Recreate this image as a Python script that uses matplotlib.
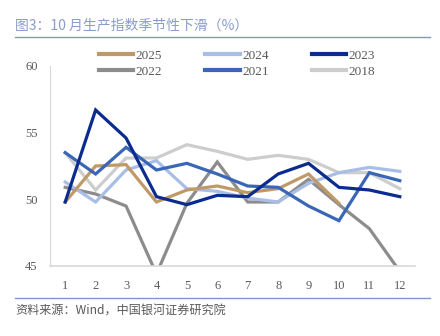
import matplotlib
matplotlib.use("Agg")
import matplotlib.pyplot as plt
from matplotlib.lines import Line2D

plt.rcParams['font.family'] = ['Liberation Serif', 'Noto Sans CJK SC']

months = list(range(1, 13))
month_labels = [str(m) for m in months]

# 生产指数 (%)
y2025 = [49.8, 52.5, 52.6, 49.8, 50.7, 51.0, 50.5, 50.8, 51.9, 49.7]
y2024 = [51.3, 49.8, 52.2, 52.9, 50.8, 50.6, 50.1, 49.8, 51.2, 52.0, 52.4, 52.1]
y2023 = [49.8, 56.7, 54.6, 50.2, 49.6, 50.3, 50.2, 51.9, 52.7, 50.9, 50.7, 50.2]
y2022 = [50.9, 50.4, 49.5, 44.4, 49.7, 52.8, 49.8, 49.8, 51.5, 49.6, 47.8, 44.6]
y2021 = [53.5, 51.9, 53.9, 52.2, 52.7, 51.9, 51.0, 50.9, 49.5, 48.4, 52.0, 51.4]
y2018 = [53.5, 50.7, 53.1, 53.1, 54.1, 53.6, 53.0, 53.3, 53.0, 52.0, 52.0, 50.8]

series = [
    ('2025', y2025, '#BF9A68'),
    ('2024', y2024, '#A9BEE6'),
    ('2023', y2023, '#0B2C8E'),
    ('2022', y2022, '#8C8C8C'),
    ('2021', y2021, '#3A66B6'),
    ('2018', y2018, '#CDCDCD'),
]
# draw order: back to front
draw_order = ['2018', '2022', '2024', '2025', '2021', '2023']

fig = plt.figure(figsize=(4.4, 3.36), dpi=100)
ax = fig.add_axes([50 / 440, 70 / 336, 365 / 440, 200 / 336])

lookup = {s[0]: s for s in series}
for name in draw_order:
    lab, vals, col = lookup[name]
    ax.plot(months[:len(vals)], vals, color=col, lw=2.3, solid_joinstyle='miter')

ax.set_xlim(0.5, 12.5)
ax.set_ylim(45, 60)
ax.set_yticks([45, 50, 55, 60])
ax.set_xticks(months)
ax.set_xticklabels(month_labels)
for s in ['top', 'right']:
    ax.spines[s].set_visible(False)
ax.spines['left'].set_color('#D9D9D9')
ax.spines['bottom'].set_color('#D9D9D9')
ax.spines['bottom'].set_linewidth(1.2)
ax.tick_params(length=0, labelsize=9, colors='#595959', pad=10)
ax.tick_params(axis='y', pad=9)

# legend, row-wise order 2025 2024 2023 / 2022 2021 2018
leg_order = ['2025', '2022', '2024', '2021', '2023', '2018']
handles = [Line2D([], [], color=lookup[n][2], lw=3) for n in leg_order]
fig.legend(handles, leg_order, ncol=3, loc='upper left',
           bbox_to_anchor=(87 / 440, 1 - 38 / 336), frameon=False,
           fontsize=9.5, handlelength=2.6, handletextpad=0.2,
           columnspacing=3.25, labelspacing=0.25, labelcolor='#595959')

# title and source
fig.text(15 / 440, 1 - 25 / 336, '图3：10 月生产指数季节性下滑（%）',
         fontsize=10, color='#8A9CCB', va='center', ha='left',
         family=['Noto Sans CJK SC'])
fig.add_artist(Line2D([15 / 440, 430 / 440], [1 - 37 / 336, 1 - 37 / 336],
                      color='#7F97C8', lw=1.0))
fig.add_artist(Line2D([15 / 440, 430 / 440], [1 - 298 / 336, 1 - 298 / 336],
                      color='#7F97C8', lw=1.0))
fig.text(15 / 440, 1 - 311 / 336, '资料来源：Wind，中国银河证券研究院',
         fontsize=8.7, color='#595959', va='center', ha='left', style='italic',
         family=['Noto Sans CJK SC', 'Liberation Serif'])

fig.savefig('out.png', dpi=100)
